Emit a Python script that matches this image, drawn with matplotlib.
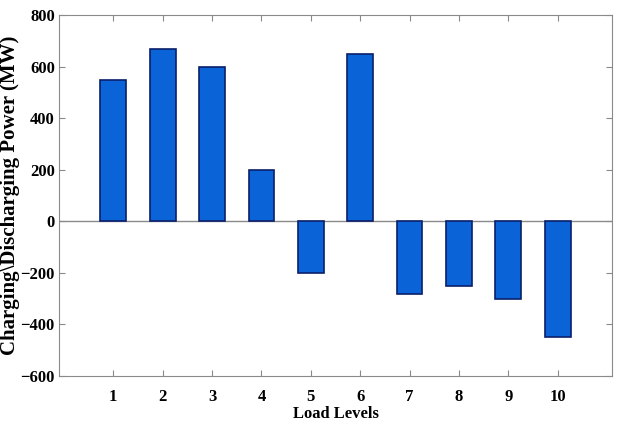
import matplotlib
matplotlib.use("Agg")
import matplotlib.pyplot as plt
import numpy as np

FONT = "Liberation Serif"

load_levels = [1, 2, 3, 4, 5, 6, 7, 8, 9, 10]
power_mw = [550, 667, 600, 200, -200, 650, -280, -250, -300, -450]

fig = plt.figure(figsize=(6.19, 4.32), dpi=100)
ax = fig.add_axes([0.0953, 0.1296, 0.8934, 0.8354])

ax.bar(load_levels, power_mw, width=0.52, color="#0A64D8",
       edgecolor="#0B1F6B", linewidth=1.2, zorder=3)
ax.axhline(0, color="#8a8a8a", linewidth=1.0, zorder=2)

ax.set_xlim(-0.1, 11.1)
ax.set_ylim(-600, 800)
ax.set_xticks(load_levels)
ax.set_yticks(np.arange(-600, 801, 200))
ax.tick_params(direction="in", top=True, right=True, length=4, color="#8a8a8a",
               labelsize=12)
for lbl in ax.get_xticklabels() + ax.get_yticklabels():
    lbl.set_fontfamily(FONT)
    lbl.set_fontweight("bold")
ax.tick_params(axis="x", pad=9)
ax.tick_params(axis="y", pad=3)
for s in ax.spines.values():
    s.set_color("#8a8a8a")

ax.set_xlabel("Load Levels", fontsize=12, fontweight="bold", family=FONT, labelpad=1)
ax.set_ylabel("Charging\\Discharging Power (MW)", fontsize=15, fontweight="bold",
              family=FONT, labelpad=0)

fig.savefig("out.png", dpi=100)
